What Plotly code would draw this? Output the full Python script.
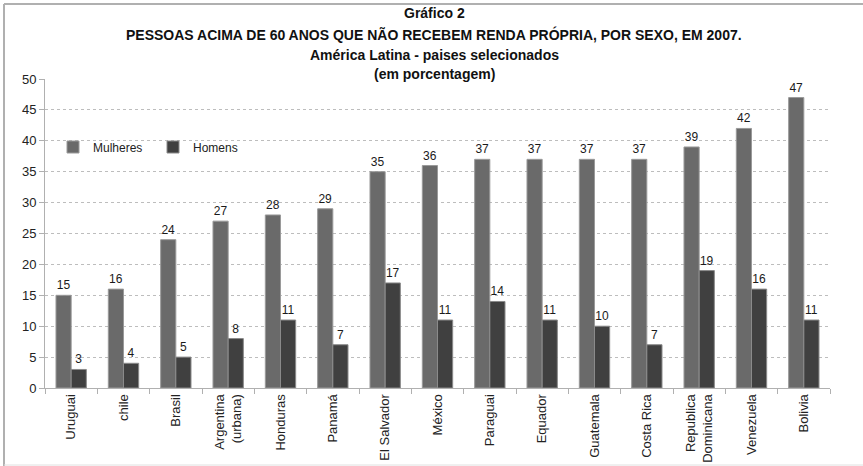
import plotly.graph_objects as go

categories = ["Uruguai", "chile", "Brasil", "Argentina<br>(urbana)", "Honduras", "Panamá",
              "El Salvador", "México", "Paraguai", "Equador", "Guatemala", "Costa Rica",
              "Republica<br>Dominicana", "Venezuela", "Bolivia"]
mulheres = [15, 16, 24, 27, 28, 29, 35, 36, 37, 37, 37, 37, 39, 42, 47]
homens = [3, 4, 5, 8, 11, 7, 17, 11, 14, 11, 10, 7, 19, 16, 11]
yticks = [0, 5, 10, 15, 20, 25, 30, 35, 40, 45, 50]

W, H = 863, 466
L, R, T, B = 45, 33, 79, 78
pw, ph = W - L - R, H - T - B

def px(x):
    return (x - L) / pw

def py(y):
    return (H - B - y) / ph

font_main = "Liberation Sans, Arial, sans-serif"
font_narrow = "Liberation Sans Narrow, Arial Narrow, Liberation Sans, Arial, sans-serif"

fig = go.Figure()
fig.add_trace(go.Bar(
    name="Mulheres", x=categories, y=mulheres,
    marker=dict(color="#6a6a6a", line=dict(color="#9a9a9a", width=1)),
    text=mulheres, textposition="outside", cliponaxis=False,
    textfont=dict(size=12, color="#1a1a1a", family=font_main),
))
fig.add_trace(go.Bar(
    name="Homens", x=categories, y=homens,
    marker=dict(color="#404040", line=dict(color="#8a8a8a", width=1)),
    text=homens, textposition="outside", cliponaxis=False,
    textfont=dict(size=12, color="#1a1a1a", family=font_main),
))

title_lines = [
    ("Gráfico 2", 13),
    ("PESSOAS ACIMA DE 60 ANOS QUE NÃO RECEBEM RENDA PRÓPRIA, POR SEXO, EM 2007.", 35),
    ("América Latina - paises selecionados", 55),
    ("(em porcentagem)", 74),
]
annotations = []
for txt, yy in title_lines:
    annotations.append(dict(
        text="<b>" + txt + "</b>", x=px(434), y=py(yy), xref="paper", yref="paper",
        xanchor="center", yanchor="middle", showarrow=False,
        font=dict(size=14, color="#111111", family=font_narrow),
    ))

shapes = [
    dict(type="line", xref="paper", yref="paper", x0=px(4), x1=px(863), y0=py(4), y1=py(4),
         line=dict(color="#b0b0b0", width=2)),
    dict(type="line", xref="paper", yref="paper", x0=px(4), x1=px(4), y0=py(4), y1=py(466),
         line=dict(color="#b0b0b0", width=2)),
    dict(type="line", xref="paper", yref="paper", x0=px(4), x1=px(863), y0=py(465), y1=py(465),
         line=dict(color="#e0e0e0", width=1)),
]

fig.update_layout(
    width=W, height=H,
    margin=dict(l=L, r=R, t=T, b=B, autoexpand=False),
    paper_bgcolor="white", plot_bgcolor="white",
    barmode="group", bargap=0.42, bargroupgap=0.0,
    font=dict(family=font_main, size=12, color="#222222"),
    showlegend=True,
    legend=dict(orientation="h", x=px(53), y=py(147), xanchor="left", yanchor="middle",
                bgcolor="rgba(0,0,0,0)", font=dict(size=12, color="#222222"),
                entrywidth=55, entrywidthmode="pixels", traceorder="normal"),
    annotations=annotations,
    shapes=shapes,
    xaxis=dict(automargin=False, tickangle=-90, showline=True, linecolor="#b0b0b0", linewidth=1,
               ticks="outside", tickson="boundaries", ticklen=5, tickcolor="#b0b0b0",
               tickfont=dict(size=13, color="#222222"), showgrid=False),
    yaxis=dict(automargin=False, range=[0, 50], tickvals=yticks, showline=True,
               linecolor="#b0b0b0", linewidth=1,
               ticks="outside", ticklen=5, tickcolor="#b0b0b0",
               showgrid=True, gridcolor="#bdbdbd", griddash="dot", gridwidth=1,
               tickfont=dict(size=13, color="#222222"), zeroline=False),
)

fig.write_html("out.html", config={"displayModeBar": False},
               post_script="document.body.style.margin='0';document.body.style.overflow='hidden';")
